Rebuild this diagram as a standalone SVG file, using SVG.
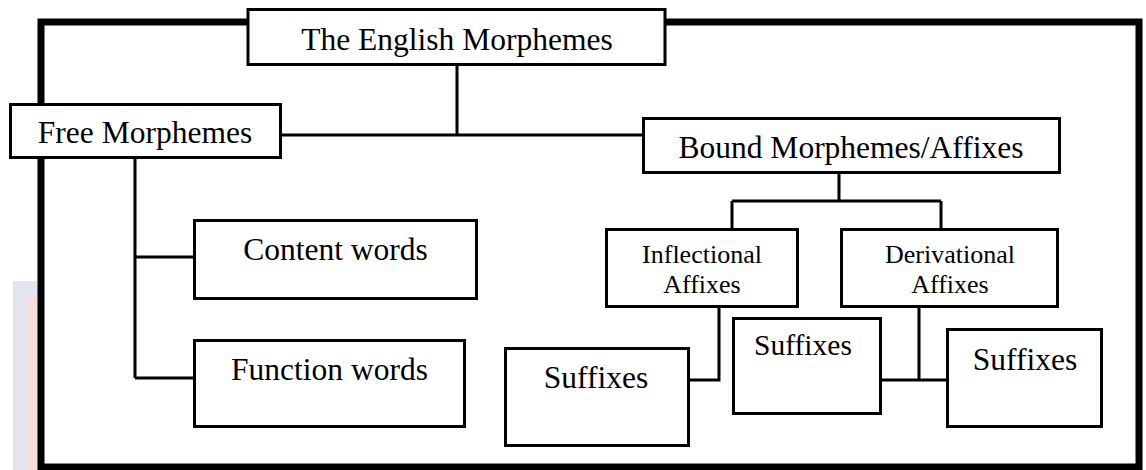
<svg xmlns="http://www.w3.org/2000/svg" width="1146" height="470" viewBox="0 0 1146 470">
<style>
.box{fill:#fff;stroke:#000;stroke-width:3}
.conn{fill:none;stroke:#000;stroke-width:3}
.frame{fill:none;stroke:#000;stroke-width:7}
text{font-family:"Liberation Serif","Times New Roman",serif;fill:#000;text-anchor:middle}
.big{font-size:31.5px}
.mid{font-size:26px}
</style>
<rect width="1146" height="470" fill="#fff"/>
<g id="watermark">
<rect x="13" y="281" width="26" height="189" fill="#e2e4ee"/>
<rect x="27" y="297" width="12" height="173" fill="#f9dcdc"/>
</g>
<rect id="frame" class="frame" x="41" y="22" width="1098" height="445"/>
<g id="connectors">
<path class="conn" d="M457,66 V135 M282,135 H642"/>
<path class="conn" d="M135,159 V378 M135,257 H193 M135,378 H193"/>
<path class="conn" d="M839,174 V201 M732,201 H941 M732,201 V228 M941,201 V228"/>
<path class="conn" d="M719,308 V380 H690"/>
<path class="conn" d="M919,308 V380 M882,380 H946"/>
</g>
<g id="title">
<rect class="box" x="248" y="9.5" width="417" height="55"/>
<text class="big" x="457" y="50">The English Morphemes</text>
</g>
<g id="free">
<rect class="box" x="10.5" y="104.5" width="270" height="53"/>
<text class="big" x="145" y="143">Free Morphemes</text>
</g>
<g id="bound">
<rect class="box" x="643.5" y="118.5" width="416" height="54"/>
<text class="big" x="851" y="158">Bound Morphemes/Affixes</text>
</g>
<g id="content">
<rect class="box" x="194.5" y="220.5" width="282" height="78"/>
<text class="big" x="335.5" y="260">Content words</text>
</g>
<g id="function">
<rect class="box" x="194.5" y="340.5" width="270" height="86"/>
<text class="big" x="329.5" y="380">Function words</text>
</g>
<g id="inflectional">
<rect class="box" x="606.5" y="229.5" width="191" height="77"/>
<text class="mid" x="702" y="263">Inflectional</text>
<text class="mid" x="702" y="293">Affixes</text>
</g>
<g id="derivational">
<rect class="box" x="841.5" y="229.5" width="216" height="77"/>
<text class="mid" x="950" y="263">Derivational</text>
<text class="mid" x="950" y="293">Affixes</text>
</g>
<g id="suffixes1">
<rect class="box" x="505.5" y="348.5" width="183" height="97"/>
<text class="big" x="596" y="388">Suffixes</text>
</g>
<g id="suffixes2">
<rect class="box" x="733.5" y="318.5" width="147" height="95"/>
<text class="big" x="803" y="355" style="font-size:29.5px">Suffixes</text>
</g>
<g id="suffixes3">
<rect class="box" x="947.5" y="329.5" width="154" height="97"/>
<text class="big" x="1025" y="370">Suffixes</text>
</g>
</svg>
